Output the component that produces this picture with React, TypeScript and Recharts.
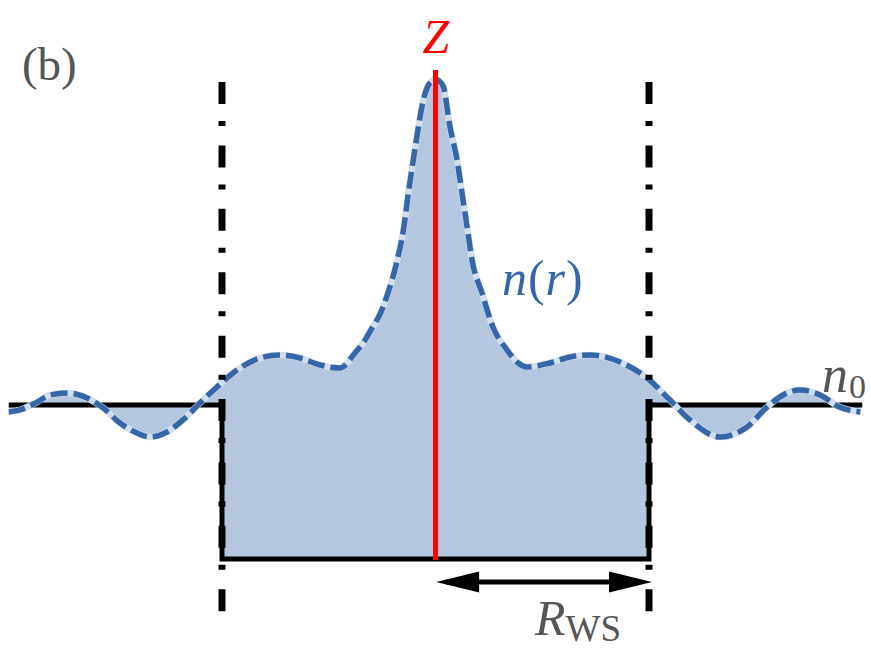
import React from 'react';
import { ComposedChart, XAxis, YAxis, Area, Line, Scatter, ReferenceDot } from 'recharts';

// radial coordinate r (in units of R_WS) and density n(r) (in units of n0)
const curveR = [-2.0, -1.946, -1.866, -1.806, -1.719, -1.632, -1.557, -1.478, -1.398, -1.337, -1.258, -1.183, -1.103, -1.023, -0.948, -0.822, -0.728, -0.635, -0.541, -0.447, -0.377, -0.33, -0.293, -0.265, -0.222, -0.18, -0.148, -0.127, -0.104, -0.08, -0.058, -0.036, -0.016, 0, 0.016, 0.036, 0.068, 0.101, 0.124, 0.148, 0.171, 0.218, 0.269, 0.335, 0.382, 0.429, 0.536, 0.63, 0.724, 0.864, 0.991, 1.098, 1.192, 1.333, 1.459, 1.553, 1.628, 1.707, 1.801, 1.892, 1.99];
const curveN = [0.955, 0.968, 1.019, 1.065, 1.078, 1.045, 0.981, 0.883, 0.818, 0.792, 0.825, 0.903, 1.013, 1.117, 1.208, 1.305, 1.325, 1.305, 1.26, 1.24, 1.338, 1.422, 1.51, 1.575, 1.73, 1.935, 2.156, 2.377, 2.591, 2.805, 2.975, 3.07, 3.105, 3.115, 3.105, 3.07, 2.805, 2.591, 2.377, 2.156, 1.942, 1.727, 1.506, 1.357, 1.279, 1.247, 1.273, 1.312, 1.325, 1.279, 1.175, 1.032, 0.903, 0.792, 0.857, 0.987, 1.065, 1.097, 1.065, 0.987, 0.955];

// step profile: n0 outside the Wigner-Seitz cell, 0 reference inside
const stepR = [-2, -1, -1, 1, 1, 2];
const stepN = [1, 1, 0, 0, 1, 1];
const N0 = 1;

// Wigner-Seitz cell boundaries (dash-dot)
const cellEdgesR = [-1, 1];
const cellLineN = [3.097, -0.344];

// nucleus line Z
const nucleusR = 0;
const nucleusN = [3.175, -0.006];

// R_WS arrow
const arrowTipsR = [0.003, 1.014];
const arrowShaftR = [0.05, 0.96];
const arrowN = -0.149;

const curveData = curveR.map((r, i) => ({ r, n: curveN[i], base: N0 }));
const stepData = stepR.map((r, i) => ({ r, n: stepN[i], top: N0 }));
const edgeData = cellEdgesR.map((r) => cellLineN.map((n) => ({ r, n })));
const nucleusData = nucleusN.map((n) => ({ r: nucleusR, n }));
const shaftData = arrowShaftR.map((r) => ({ r, n: arrowN }));
const headData = arrowTipsR.map((r, i) => ({ r, n: arrowN, dir: i === 0 ? -1 : 1 }));

const FILL = '#b4c7de';
const BLUE = '#3566a8';
const GREY = '#555555';
const SERIF = "'Liberation Serif', 'DejaVu Serif', serif";

const ArrowHead = (p: any) => {
  const { cx, cy, payload } = p;
  const d = payload.dir;
  const L = 43;
  const H = 10.5;
  return <polygon points={`${cx},${cy} ${cx - d * L},${cy - H} ${cx - d * L},${cy + H}`} fill="#000" />;
};

export default function App() {
  return (
    <div style={{ position: 'absolute', left: 0, top: 0, width: 871, height: 653, background: '#fff' }}>
      <ComposedChart width={871} height={653} margin={{ top: 4.6, right: 8.5, bottom: 1.6, left: 8.5 }}>
        <XAxis type="number" dataKey="r" domain={[-2, 2]} hide allowDataOverflow />
        <YAxis type="number" dataKey="n" domain={[-0.6, 3.6]} hide allowDataOverflow />
        <Area
          data={curveData}
          dataKey={(d: any) => [d.base, d.n]}
          type="monotone"
          stroke="none"
          fill={FILL}
          fillOpacity={1}
          isAnimationActive={false}
          dot={false}
          activeDot={false}
        />
        <Area
          data={stepData}
          dataKey={(d: any) => [d.n, d.top]}
          type="linear"
          stroke="none"
          fill={FILL}
          fillOpacity={1}
          isAnimationActive={false}
          dot={false}
          activeDot={false}
        />
        <Line data={stepData} dataKey="n" type="linear" stroke="#000" strokeWidth={5} strokeLinejoin="miter" dot={false} activeDot={false} isAnimationActive={false} />
        <Line data={curveData} dataKey="n" type="monotone" stroke="#d3deec" strokeWidth={6.5} dot={false} activeDot={false} isAnimationActive={false} />
        <Line data={curveData} dataKey="n" type="monotone" stroke={BLUE} strokeWidth={5.5} strokeDasharray="17 6" dot={false} activeDot={false} isAnimationActive={false} />
        {edgeData.map((d, i) => (
          <Line key={i} data={d} dataKey="n" type="linear" stroke="#000" strokeWidth={7} strokeDasharray="22 17 5 19.4" dot={false} activeDot={false} isAnimationActive={false} />
        ))}
        <Line data={nucleusData} dataKey="n" type="linear" stroke="#ff0000" strokeWidth={5} dot={false} activeDot={false} isAnimationActive={false} />
        <Line data={shaftData} dataKey="n" type="linear" stroke="#000" strokeWidth={5} dot={false} activeDot={false} isAnimationActive={false} />
        <Scatter data={headData} dataKey="n" shape={ArrowHead} isAnimationActive={false} />
        <ReferenceDot x={-1.937} y={3.11} r={0} shape={(p: any) => (
          <text x={p.cx} y={p.cy} style={{ fontFamily: SERIF, fontSize: 47 }} fill={GREY}>(b)</text>
        )} />
        <ReferenceDot x={0.002} y={3.286} r={0} shape={(p: any) => (
          <text x={p.cx} y={p.cy} textAnchor="middle" style={{ fontFamily: SERIF, fontStyle: 'italic', fontSize: 48 }} fill="#ff0000">Z</text>
        )} />
        <ReferenceDot x={0.311} y={1.714} r={0} shape={(p: any) => (
          <text x={p.cx} y={p.cy} style={{ fontFamily: SERIF, fontSize: 50, letterSpacing: 1 }} fill={BLUE}>
            <tspan style={{ fontStyle: 'italic' }}>n</tspan>(<tspan style={{ fontStyle: 'italic' }}>r</tspan>)
          </text>
        )} />
        <ReferenceDot x={1.81} y={1.084} r={0} shape={(p: any) => (
          <text x={p.cx} y={p.cy} style={{ fontFamily: SERIF }} fill={GREY}>
            <tspan style={{ fontStyle: 'italic', fontSize: 52 }}>n</tspan>
            <tspan style={{ fontSize: 34 }} dx={1} dy={6}>0</tspan>
          </text>
        )} />
        <ReferenceDot x={0.466} y={-0.494} r={0} shape={(p: any) => (
          <text x={p.cx} y={p.cy} style={{ fontFamily: SERIF }} fill={GREY}>
            <tspan style={{ fontStyle: 'italic', fontSize: 50 }}>R</tspan>
            <tspan style={{ fontSize: 37 }} dy={6}>WS</tspan>
          </text>
        )} />
      </ComposedChart>
    </div>
  );
}
